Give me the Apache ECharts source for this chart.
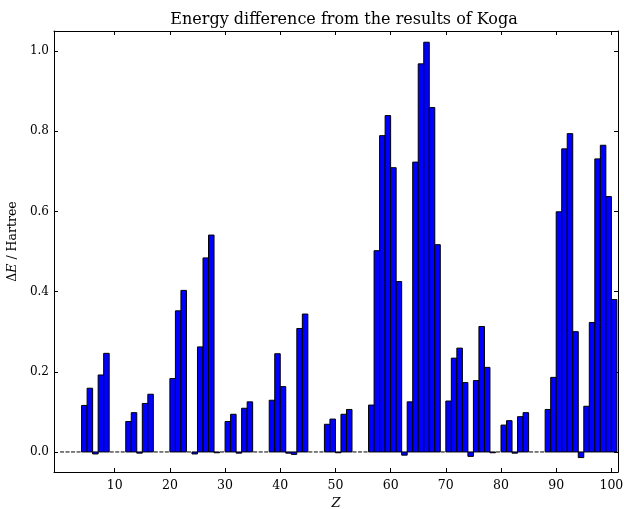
<!DOCTYPE html>
<html>
<head>
<meta charset="utf-8">
<script src="https://cdn.jsdelivr.net/npm/echarts@6/dist/echarts.min.js"></script>
<style>
  html, body { margin: 0; padding: 0; background: #fff; }
  #chart { width: 624px; height: 509px; }
</style>
</head>
<body>
<div id="chart"></div>
<script>
// Left edge of each bar on the Z axis (each bar is one unit wide)
const zValues = [
  0, 1, 2, 3, 4, 5, 6, 7, 8, 9,
  10, 11, 12, 13, 14, 15, 16, 17, 18, 19,
  20, 21, 22, 23, 24, 25, 26, 27, 28, 29,
  30, 31, 32, 33, 34, 35, 36, 37, 38, 39,
  40, 41, 42, 43, 44, 45, 46, 47, 48, 49,
  50, 51, 52, 53, 54, 55, 56, 57, 58, 59,
  60, 61, 62, 63, 64, 65, 66, 67, 68, 69,
  70, 71, 72, 73, 74, 75, 76, 77, 78, 79,
  80, 81, 82, 83, 84, 85, 86, 87, 88, 89,
  90, 91, 92, 93, 94, 95, 96, 97, 98, 99,
  100
];

// Energy difference (Hartree)
const deltaE = [
  0, 0, 0, 0, 0.116, 0.159, -0.005, 0.192, 0.246, 0,
  0, 0, 0.076, 0.098, -0.003, 0.121, 0.144, 0, 0, 0,
  0.183, 0.352, 0.403, 0, -0.005, 0.262, 0.484, 0.541, -0.002, 0,
  0.076, 0.094, -0.003, 0.109, 0.125, 0, 0, 0, 0.129, 0.245,
  0.163, -0.003, -0.006, 0.308, 0.344, 0, 0, 0, 0.069, 0.082,
  -0.002, 0.094, 0.106, 0, 0, 0, 0.117, 0.502, 0.789, 0.839,
  0.709, 0.425, -0.008, 0.125, 0.723, 0.968, 1.022, 0.859, 0.517, 0,
  0.127, 0.234, 0.259, 0.173, -0.011, 0.178, 0.313, 0.211, -0.002, 0,
  0.067, 0.078, -0.003, 0.088, 0.098, 0, 0, 0, 0.106, 0.186,
  0.599, 0.756, 0.794, 0.300, -0.014, 0.114, 0.323, 0.731, 0.765, 0.637,
  0.380
];

const xTicks = [10, 20, 30, 40, 50, 60, 70, 80, 90, 100];
const yTicks = [0.0, 0.2, 0.4, 0.6, 0.8, 1.0];

const FONT = 'DejaVu Serif';
const X_MIN = -1, X_MAX = 101.2;
const Y_MIN = -0.05, Y_MAX = 1.05;

const data = zValues.map((z, i) => [z, deltaE[i]]);

const chart = echarts.init(document.getElementById('chart'), null, { renderer: 'canvas' });

const lineStyle = { color: '#000', width: 1 };
const tickStyle = { color: '#000', width: 1 };

function xAxisDef(pos, showLabels) {
  return {
    type: 'value', position: pos, min: X_MIN, max: X_MAX,
    axisLine: { show: true, onZero: false, lineStyle },
    axisTick: { show: true, inside: true, length: 4, lineStyle: tickStyle, customValues: xTicks },
    axisLabel: {
      show: showLabels, margin: 7, customValues: xTicks,
      fontFamily: FONT, fontSize: 12.5, color: '#000'
    },
    splitLine: { show: false },
    name: showLabels ? 'Z' : '',
    nameLocation: 'middle', nameGap: 24,
    nameTextStyle: { fontFamily: FONT, fontSize: 13, fontStyle: 'italic', color: '#000' }
  };
}

function yAxisDef(pos, showLabels) {
  return {
    type: 'value', position: pos, min: Y_MIN, max: Y_MAX,
    axisLine: { show: true, onZero: false, lineStyle },
    axisTick: { show: true, inside: true, length: 4, lineStyle: tickStyle, customValues: yTicks },
    axisLabel: {
      show: showLabels, margin: 5, customValues: yTicks,
      formatter: v => v.toFixed(1),
      fontFamily: FONT, fontSize: 12, color: '#000'
    },
    splitLine: { show: false },
    name: showLabels ? '{n|Δ}{i|E}{n| / Hartree}' : '',
    nameLocation: 'middle', nameGap: 29,
    nameTextStyle: {
      padding: [0, 0, 0, 20],
      rich: {
        n: { fontFamily: FONT, fontSize: 12.5, color: '#000' },
        i: { fontFamily: FONT, fontSize: 12.5, fontStyle: 'italic', color: '#000' }
      }
    }
  };
}

chart.setOption({
  animation: false,
  backgroundColor: '#fff',
  title: {
    text: 'Energy difference from the results of Koga',
    left: 339, textAlign: 'center', top: 7,
    textStyle: { fontFamily: FONT, fontSize: 16, fontWeight: 'normal', color: '#000' }
  },
  grid: { left: 54, right: 6, top: 31, bottom: 37, outerBoundsMode: 'none', containLabel: false },
  xAxis: [xAxisDef('bottom', true), xAxisDef('top', false)],
  yAxis: [yAxisDef('left', true), yAxisDef('right', false)],
  series: [{
    type: 'custom',
    xAxisIndex: 0, yAxisIndex: 0,
    clip: true,
    data: data,
    renderItem(params, api) {
      const z = api.value(0);
      const v = api.value(1);
      const base = api.coord([z, 0]);
      const end = api.coord([z + 1, v]);
      const w = end[0] - base[0];
      if (v === 0) {
        // a zero-height bar shows only as a short edge segment on the baseline
        return {
          type: 'line',
          shape: { x1: base[0] + 0.5, y1: base[1], x2: base[0] + w - 1, y2: base[1] },
          style: { stroke: '#000', lineWidth: 1 }
        };
      }
      return {
        type: 'rect',
        shape: {
          x: base[0],
          y: Math.min(base[1], end[1]),
          width: w,
          height: Math.abs(end[1] - base[1])
        },
        style: { fill: '#0000ff', stroke: '#000', lineWidth: 1 }
      };
    }
  }]
});
</script>
</body>
</html>
